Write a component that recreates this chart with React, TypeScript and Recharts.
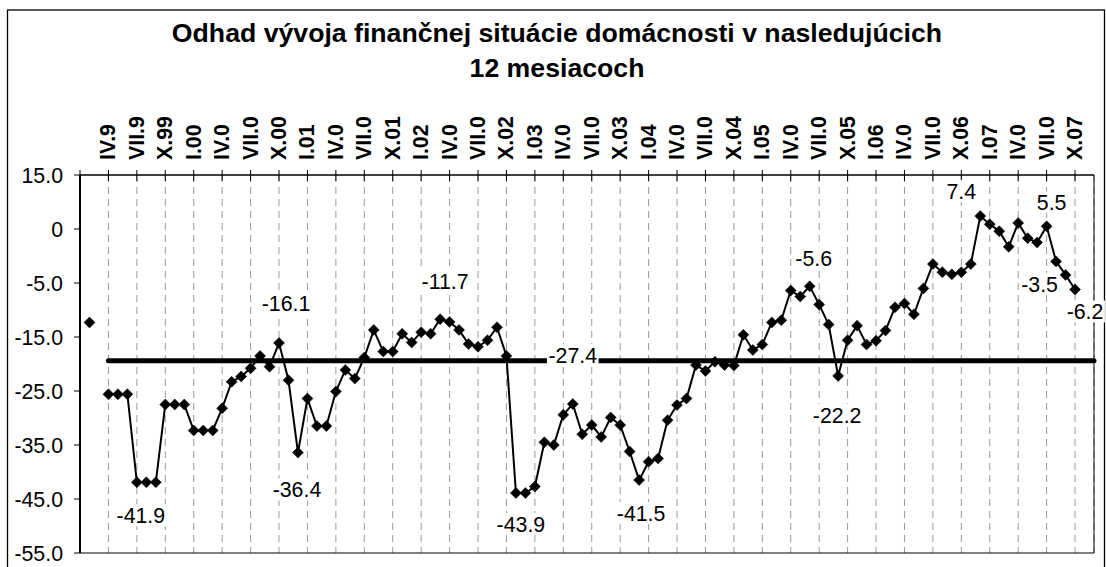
import React from 'react';
import { LineChart, Line, XAxis, YAxis, CartesianGrid, LabelList, ReferenceLine } from 'recharts';

// Monthly categories: I.1999 ... XII.2007
const firstYear = 1999;
const lastYear = 2007;
const months: string[] = [];
for (let y = firstYear; y <= lastYear; y++) {
  for (let m = 1; m <= 12; m++) months.push(`${y}-${String(m).padStart(2, '0')}`);
}

// Quarter tick labels (shown every 3rd month starting with April 1999)
const tickLabels = [
  'IV.9', 'VII.9', 'X.99', 'I.00', 'IV.0', 'VII.0', 'X.00', 'I.01', 'IV.0', 'VII.0', 'X.01', 'I.02',
  'IV.0', 'VII.0', 'X.02', 'I.03', 'IV.0', 'VII.0', 'X.03', 'I.04', 'IV.0', 'VII.0', 'X.04', 'I.05',
  'IV.0', 'VII.0', 'X.05', 'I.06', 'IV.0', 'VII.0', 'X.06', 'I.07', 'IV.0', 'VII.0', 'X.07',
];

const yMin = -55;
const yMax = 15;
const yTicks = [15, 5, -5, -15, -25, -35, -45, -55];
const yTickLabels = ['15.0', '0', '-5.0', '-15.0', '-25.0', '-35.0', '-45.0', '-55.0'];

// Household financial situation expectation (monthly balance)
const values: (number | null)[] = [
  null, -12.3, null, -25.6, -25.6, -25.6, -41.9, -41.9, -41.9, -27.5, -27.5, -27.5,
  -32.3, -32.3, -32.3, -28.2, -23.3, -22.3, -20.8, -18.5, -20.5, -16.1, -23.0, -36.4,
  -26.4, -31.5, -31.5, -25.1, -21.1, -22.7, -18.8, -13.7, -17.7, -17.7, -14.4, -16.0,
  -14.1, -14.4, -11.7, -12.2, -13.7, -16.3, -16.8, -15.6, -13.2, -18.5, -43.9, -43.9,
  -42.7, -34.5, -35.0, -29.4, -27.4, -33.0, -31.3, -33.5, -29.9, -31.3, -36.2, -41.5,
  -38.1, -37.5, -30.4, -27.6, -26.4, -20.2, -21.3, -19.6, -20.2, -20.3, -14.6, -17.4,
  -16.4, -12.3, -11.9, -6.4, -7.5, -5.6, -9.0, -12.7, -22.2, -15.6, -12.9, -16.4,
  -15.7, -13.8, -9.5, -8.8, -10.8, -6.0, -1.5, -3.0, -3.4, -3.0, -1.5, 7.4,
  5.9, 4.6, 1.7, 6.1, 3.3, 2.5, 5.5, -1.0, -3.5, -6.2, null, null,
];

// Long-run average line
const averageValue = -19.4;
const averageStartIndex = 3;

// Which points carry a value label, and label placement relative to the point (style only)
const labelPlacement: Record<number, [number, number]> = {
  6: [4, 33], 21: [7, -40], 23: [-1, 37], 38: [5, -38], 46: [5, 31], 52: [0, -49],
  59: [2, 33], 77: [4, -28], 80: [-1, 39], 95: [-19, -25], 102: [5, -24], 104: [-26, 9], 105: [10, 22],
};

const data = months.map((m, i) => ({
  month: m,
  value: values[i],
  avg: i >= averageStartIndex ? averageValue : null,
}));

const FONT = '"Liberation Sans", Arial, sans-serif';
const LABEL_SIZE = 21.33;

const charWidth = (c: string) => (c === '-' ? 0.333 : c === '.' ? 0.278 : 0.556);
const textWidth = (s: string, size: number) => s.split('').reduce((a, c) => a + charWidth(c), 0) * size;

const XTick = (props: any) => {
  const { x, y, payload } = props;
  const idx = months.indexOf(payload.value);
  const label = idx >= 3 && idx % 3 === 0 ? tickLabels[idx / 3 - 1] ?? '' : '';
  return (
    <g>
      <line x1={x} x2={x} y1={y - 5} y2={y + 6} stroke="#000" strokeWidth={1} />
      {label && (
        <text
          transform={`translate(${x + 7},${y - 15}) rotate(-90)`}
          textAnchor="start"
          fontFamily={FONT}
          fontWeight="bold"
          fontSize={LABEL_SIZE}
          fill="#000"
        >
          {label}
        </text>
      )}
    </g>
  );
};

const renderDiamond = (props: any) => {
  const { cx, cy, index, payload } = props;
  if (cx == null || cy == null || payload == null || payload.value == null) return <g key={`d${index}`} />;
  const r = 5.5;
  return (
    <path
      key={`d${index}`}
      d={`M${cx},${cy - r}L${cx + r},${cy}L${cx},${cy + r}L${cx - r},${cy}Z`}
      fill="#000"
      stroke="#000"
      strokeWidth={0.5}
    />
  );
};

const renderLabel = (props: any) => {
  const { x, y, value, index } = props;
  const place = labelPlacement[index];
  if (!place || value == null || x == null || y == null) return null;
  const text = Number(value).toFixed(1);
  const cx = x + place[0];
  const cy = y + place[1];
  const w = textWidth(text, LABEL_SIZE);
  return (
    <g key={`l${index}`}>
      <rect x={cx - w / 2 - 1.5} y={cy - 11} width={w + 3} height={22} fill="#fff" />
      <text x={cx} y={cy + LABEL_SIZE * 0.358} textAnchor="middle" fontFamily={FONT} fontSize={LABEL_SIZE} fill="#000">
        {text}
      </text>
    </g>
  );
};

export default function App() {
  return (
    <div style={{ position: 'relative', width: 1106, height: 567, background: '#fff', overflow: 'hidden' }}>
      <style>{`html,body{margin:0;padding:0;overflow:hidden;background:#fff}`}</style>
      <svg style={{ position: 'absolute', left: 0, top: 0 }} width={1106} height={567}>
        <rect x={7.5} y={10} width={1097} height={600} fill="#fff" stroke="#000" strokeWidth={1.3} />
        <text x={557} y={42} textAnchor="middle" fontFamily={FONT} fontWeight="bold" fontSize={26.67} fill="#000">
          Odhad vývoja finančnej situácie domácnosti v nasledujúcich
        </text>
        <text x={557} y={77} textAnchor="middle" fontFamily={FONT} fontWeight="bold" fontSize={26.67} fill="#000">
          12 mesiacoch
        </text>
      </svg>
      <div style={{ position: 'absolute', left: 0, top: 0 }}>
        <LineChart width={1106} height={567} data={data} margin={{ top: 0, right: 12, bottom: 14, left: 0 }}>
          <CartesianGrid horizontal={false} stroke="#999" strokeDasharray="7 5" />
          <XAxis
            dataKey="month"
            orientation="top"
            height={175}
            interval={2}
            tickSize={0}
            tickMargin={0}
            tickLine={false}
            axisLine={{ stroke: '#000', strokeWidth: 1.5 }}
            tick={<XTick />}
          />
          <YAxis
            type="number"
            domain={[yMin, yMax]}
            ticks={yTicks}
            interval={0}
            width={80}
            tickSize={6}
            tickMargin={11}
            axisLine={{ stroke: '#000', strokeWidth: 2 }}
            tickLine={{ stroke: '#000', strokeWidth: 1 }}
            tick={{ fill: '#000', fontSize: LABEL_SIZE, fontFamily: FONT }}
            tickFormatter={(v: number) => yTickLabels[yTicks.indexOf(v)] ?? String(v)}
          />
          <ReferenceLine y={yMin} stroke="#000" strokeWidth={1} ifOverflow="visible" />
          <ReferenceLine x={months[months.length - 1]} stroke="#000" strokeWidth={1} ifOverflow="visible" />
          <Line
            dataKey="avg"
            type="linear"
            stroke="#000"
            strokeWidth={5}
            strokeLinecap="round"
            dot={false}
            activeDot={false}
            isAnimationActive={false}
          />
          <Line
            dataKey="value"
            type="linear"
            stroke="#000"
            strokeWidth={2}
            dot={renderDiamond}
            activeDot={false}
            isAnimationActive={false}
          >
            <LabelList dataKey="value" content={renderLabel} />
          </Line>
        </LineChart>
      </div>
    </div>
  );
}
